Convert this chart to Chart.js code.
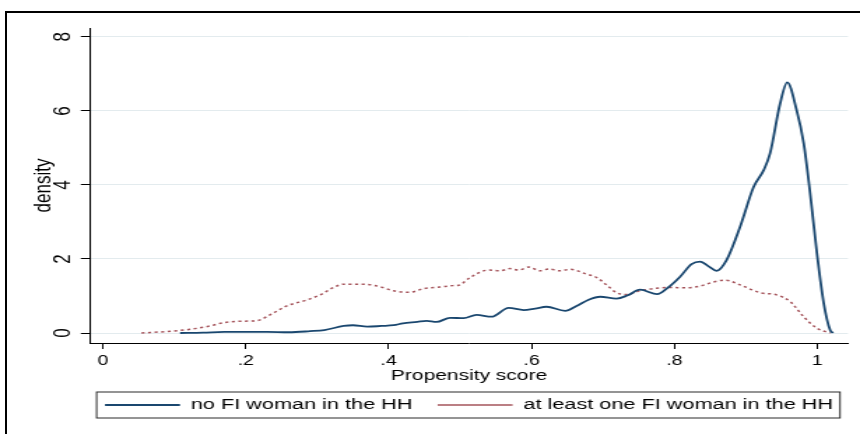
<!DOCTYPE html>
<html>
<head>
<meta charset="utf-8">
<script src="https://cdn.jsdelivr.net/npm/chart.js@4.4.1/dist/chart.umd.min.js"></script>
<style>
  html, body { margin: 0; padding: 0; background: #ffffff; }
  body { width: 860px; height: 434px; position: relative; overflow: hidden; }
  #frame { position: absolute; left: 5px; top: 11px; width: 920px; height: 520px; border: 2px solid #000; box-sizing: border-box; }
  #wrap { position: absolute; left: 0; top: 0; width: 615px; height: 434px; transform: scaleX(1.39837); transform-origin: 0 0; }
  canvas { display: block; }
</style>
</head>
<body>
<div id="frame"></div>
<div id="wrap"><canvas id="chart" width="615" height="434"></canvas></div>
<script>
// ---- data ----
const seriesNames = ['no FI woman in the HH', 'at least one FI woman in the HH'];

const scoreNoFI = [0.108, 0.14, 0.17, 0.2, 0.23, 0.26, 0.29, 0.31, 0.337, 0.35, 0.37, 0.39, 0.407, 0.42, 0.44, 0.453, 0.467, 0.486, 0.505, 0.523, 0.544, 0.568, 0.589, 0.605, 0.621, 0.647, 0.663, 0.68, 0.696, 0.719, 0.735, 0.752, 0.776, 0.79, 0.808, 0.824, 0.836, 0.848, 0.859, 0.873, 0.892, 0.911, 0.925, 0.934, 0.948, 0.958, 0.971, 0.981, 0.99, 0.9995, 1.009, 1.018, 1.022];
const densityNoFI = [0.00, 0.01, 0.03, 0.03, 0.03, 0.02, 0.05, 0.08, 0.19, 0.21, 0.17, 0.19, 0.21, 0.26, 0.30, 0.33, 0.30, 0.41, 0.40, 0.49, 0.44, 0.68, 0.62, 0.66, 0.71, 0.60, 0.73, 0.90, 0.98, 0.93, 1.02, 1.17, 1.05, 1.21, 1.52, 1.86, 1.93, 1.80, 1.68, 1.97, 2.87, 3.95, 4.40, 4.86, 6.20, 6.77, 6.03, 5.13, 3.78, 2.16, 0.81, 0.08, 0.00];

const scoreFI = [0.054, 0.089, 0.122, 0.15, 0.169, 0.197, 0.215, 0.234, 0.257, 0.285, 0.304, 0.323, 0.337, 0.365, 0.388, 0.407, 0.43, 0.449, 0.472, 0.49, 0.498, 0.514, 0.54, 0.556, 0.57, 0.582, 0.596, 0.612, 0.624, 0.64, 0.654, 0.677, 0.691, 0.705, 0.719, 0.733, 0.752, 0.775, 0.794, 0.817, 0.836, 0.855, 0.871, 0.892, 0.92, 0.943, 0.962, 0.981, 0.9995, 1.018];
const densityFI = [0.00, 0.04, 0.10, 0.19, 0.28, 0.32, 0.33, 0.49, 0.73, 0.89, 1.03, 1.23, 1.32, 1.32, 1.25, 1.14, 1.10, 1.20, 1.24, 1.28, 1.29, 1.50, 1.70, 1.68, 1.74, 1.70, 1.78, 1.68, 1.73, 1.68, 1.72, 1.59, 1.50, 1.30, 1.09, 1.04, 1.14, 1.21, 1.23, 1.22, 1.27, 1.38, 1.43, 1.30, 1.09, 1.03, 0.85, 0.44, 0.13, 0.00];

const xTickValues = [0, 0.2, 0.4, 0.6, 0.8, 1];
const xTickLabels = ['0', '.2', '.4', '.6', '.8', '1'];
const yTickValues = [0, 2, 4, 6, 8];
const yTickLabels = ['0', '2', '4', '6', '8'];
const xTitle = 'Propensity score';
const yTitle = 'density';

// ---- chart ----
const FONT = "'Liberation Sans', Arial, Helvetica, sans-serif";
const toPoints = (xs, ys) => xs.map((x, i) => ({ x: x, y: ys[i] }));

const legendFrame = {
  id: 'legendFrame',
  beforeDraw(chart) {
    const lg = chart.legend, ca = chart.chartArea;
    if (!lg) return;
    const c = (ca.left + ca.right) / 2, half = 300;
    lg.left = c - half; lg.right = c + half; lg.width = 2 * half;
  },
  afterDraw(chart) {
    const lg = chart.legend;
    if (!lg || !lg.lineWidths) return;
    const pad = lg.options.labels.padding;
    const fs = lg.options.labels.font.size;
    const rw = lg.lineWidths[0];
    const start = (lg.left + pad + lg.right - rw) / 2;
    const end = start + rw - pad;
    const top = lg.top + pad;
    const ctx = chart.ctx;
    ctx.save();
    ctx.strokeStyle = '#2b2b2b';
    ctx.lineWidth = 1;
    ctx.setLineDash([]);
    ctx.strokeRect(start - 6, top - 5.25, end - start + 11, fs + 10.5);
    ctx.restore();
  }
};

new Chart(document.getElementById('chart'), {
  type: 'line',
  data: {
    datasets: [
      {
        label: seriesNames[0],
        data: toPoints(scoreNoFI, densityNoFI),
        borderColor: '#1a476f',
        backgroundColor: '#1a476f',
        borderWidth: 1.8,
        pointRadius: 0,
        fill: false,
        cubicInterpolationMode: 'monotone'
      },
      {
        label: seriesNames[1],
        data: toPoints(scoreFI, densityFI),
        borderColor: '#a5545b',
        backgroundColor: '#a5545b',
        borderWidth: 1.5,
        borderDash: [2.2, 2.5],
        pointRadius: 0,
        fill: false,
        cubicInterpolationMode: 'monotone'
      }
    ]
  },
  options: {
    responsive: false,
    devicePixelRatio: 1,
    animation: false,
    events: [],
    layout: { padding: { left: 0, right: 8.6, top: 28, bottom: 24.75 } },
    scales: {
      x: {
        type: 'linear',
        min: -0.018,
        max: 1.043,
        afterBuildTicks: s => { s.ticks = xTickValues.map(v => ({ value: v })); },
        afterFit: s => { s.height = 36.25; },
        border: { display: true, color: '#000', width: 1 },
        grid: { drawOnChartArea: false, drawTicks: true, tickLength: 6, tickColor: '#000', tickWidth: 1 },
        ticks: {
          color: '#000', font: { family: FONT, size: 14 }, padding: 3.4,
          minRotation: 0, maxRotation: 0, autoSkip: false,
          callback: v => { const i = xTickValues.indexOf(v); return i >= 0 ? xTickLabels[i] : ''; }
        },
        title: { display: true, text: xTitle, color: '#000', font: { family: FONT, size: 15, lineHeight: 0.4 }, padding: { top: 0, bottom: 0 } }
      },
      y: {
        type: 'linear',
        min: -0.27,
        max: 8.24,
        afterBuildTicks: s => { s.ticks = yTickValues.map(v => ({ value: v })); },
        afterFit: s => { s.width = 64.4; },
        border: { display: true, color: '#000', width: 1 },
        grid: { color: '#e3ebee', lineWidth: 1, drawTicks: true, tickLength: 6.6, tickColor: '#000', tickWidth: 1 },
        ticks: {
          color: '#000', font: { family: FONT, size: 17 }, padding: 7.5,
          minRotation: 90, maxRotation: 90, crossAlign: 'center', autoSkip: false,
          callback: v => { const i = yTickValues.indexOf(v); return i >= 0 ? yTickLabels[i] : ''; }
        },
        title: { display: true, text: yTitle, color: '#000', font: { family: FONT, size: 17, lineHeight: 1.2 }, padding: { top: 21.5, bottom: 0 } }
      }
    },
    plugins: {
      tooltip: { enabled: false },
      legend: {
        display: true,
        position: 'bottom',
        maxHeight: 30,
        labels: {
          usePointStyle: true,
          pointStyle: 'line',
          pointStyleWidth: 53.6,
          padding: 18,
          color: '#000',
          font: { family: FONT, size: 15.5 }
        }
      }
    }
  },
  plugins: [legendFrame]
});
</script>
</body>
</html>
